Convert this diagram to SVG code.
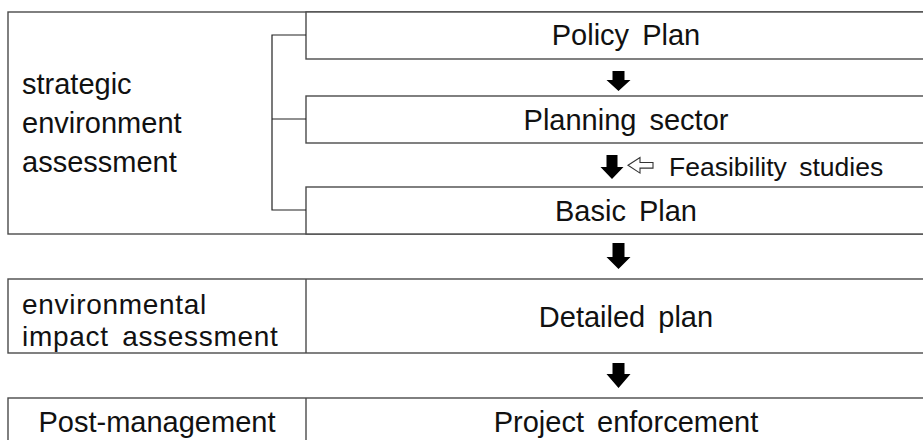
<svg xmlns="http://www.w3.org/2000/svg" width="923" height="440" viewBox="0 0 923 440">
  <defs>
    <style>
      .box { fill: #fff; stroke: #4a4a4a; stroke-width: 1.4; }
      .link { fill: none; stroke: #222; stroke-width: 1.2; }
      .t { font-family: "Liberation Sans", Arial, sans-serif; font-size: 29px; fill: #111; word-spacing: 5px; }
      .c { text-anchor: middle; }
      .eia { font-size: 28px; letter-spacing: 0.7px; }
      .arrow { fill: #000; }
      .hollow { fill: #fff; stroke: #333; stroke-width: 1.1; }
    </style>
  </defs>

  <!-- strategic environment assessment block -->
  <g id="sea">
    <rect class="box" x="8" y="12" width="940" height="222"/>
    <text class="t" x="22" y="94">strategic</text>
    <text class="t" x="22" y="133">environment</text>
    <text class="t" x="22" y="172">assessment</text>
  </g>

  <g id="policy-plan">
    <rect class="box" x="306" y="12" width="642" height="47"/>
    <text class="t c" x="626" y="45">Policy Plan</text>
  </g>

  <g id="planning-sector">
    <rect class="box" x="306" y="96" width="642" height="47"/>
    <text class="t c" x="626" y="130">Planning sector</text>
  </g>

  <g id="feasibility">
    <text class="t" x="669" y="176" style="font-size:26.5px">Feasibility studies</text>
  </g>

  <g id="basic-plan">
    <rect class="box" x="306" y="187" width="642" height="47"/>
    <text class="t c" x="626" y="221">Basic Plan</text>
  </g>

  <!-- environmental impact assessment row -->
  <g id="eia">
    <rect class="box" x="8" y="279" width="940" height="74"/>
    <line class="box" x1="306" y1="279" x2="306" y2="353"/>
    <text class="t eia" x="22" y="314">environmental</text>
    <text class="t eia" x="22" y="346">impact assessment</text>
  </g>
  <g id="detailed-plan">
    <text class="t c" x="626" y="327">Detailed plan</text>
  </g>

  <!-- post-management row -->
  <g id="post-management">
    <rect class="box" x="8" y="398" width="940" height="60"/>
    <line class="box" x1="306" y1="398" x2="306" y2="450"/>
    <text class="t c" x="157" y="432">Post-management</text>
  </g>
  <g id="project-enforcement">
    <text class="t c" x="626" y="432">Project enforcement</text>
  </g>

  <!-- connectors -->
  <g id="connectors">
    <!-- bracket joining the three plan stages -->
    <path class="link" d="M306 35 H272 V210 H306 M272 119 H306"/>

    <!-- block arrows -->
    <path class="arrow" d="M612.5 71 H624.5 V80 H630.5 L618.5 91 L606.5 80 H612.5 Z"/>
    <path class="arrow" d="M606.5 155 H617.5 V167 H623.5 L612 179 L600.5 167 H606.5 Z"/>
    <path class="arrow" d="M612.5 243 H624.5 V257 H630.5 L618.5 269 L606.5 257 H612.5 Z"/>
    <path class="arrow" d="M612.5 363 H624.5 V374 H630.5 L618.5 388 L606.5 374 H612.5 Z"/>

    <!-- hollow arrow from feasibility studies -->
    <path class="hollow" d="M628 165.3 L640 157.5 V162.5 H653 V168.1 H640 V173.1 Z"/>
  </g>
</svg>
